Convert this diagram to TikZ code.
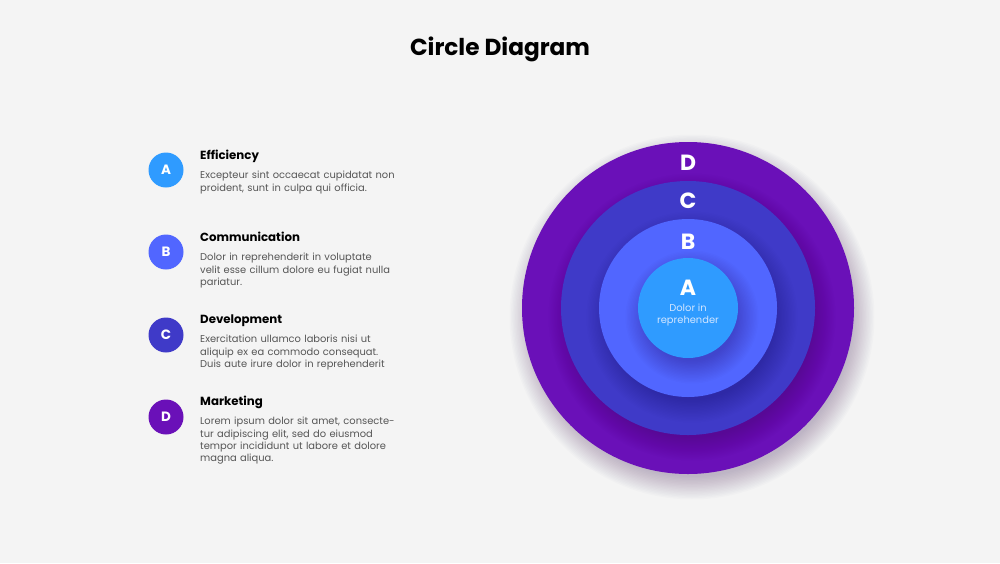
\documentclass[tikz,border=0pt]{standalone}
\usepackage{fontspec}
\setmainfont{Poppins}
\definecolor{bg}{HTML}{F4F4F4}
\definecolor{cA}{HTML}{2F9BFF}
\definecolor{cB}{HTML}{5166FF}
\definecolor{cC}{HTML}{3F3AC8}
\definecolor{cD}{HTML}{6A10B8}
\definecolor{shade}{HTML}{2A0850}
\definecolor{bodygray}{HTML}{555555}
\definecolor{lightA}{HTML}{D2E6FF}
\tikzset{
  ring/.style={circle, inner sep=0pt},
  softshadow/.style={fill=shade, fill opacity=0.016},
  bigletter/.style={text=white, font=\fontsize{22}{24}\selectfont\bfseries},
  badge/.style={circle, minimum size=35pt, inner sep=0pt, text=white, font=\fontsize{13.5}{15}\selectfont\bfseries},
  itemtitle/.style={anchor=base west, inner sep=0pt, font=\fontsize{11.8}{14}\selectfont\bfseries, text=black},
  itembody/.style={anchor=north west, inner sep=0pt, text width=230pt, align=left, font=\fontsize{9.9}{12.3}\selectfont, text=bodygray},
}
\newcommand{\ringshadow}[1]{%
  \foreach \k in {0,...,16} {
    \fill[softshadow] (692,317) circle ({#1 - 6 + \k*1.4});
  }%
}
\begin{document}
\begin{tikzpicture}[x=1pt,y=-1pt]
\fill[bg] (0,0) rectangle (1000,563);
\useasboundingbox (0,0) rectangle (1000,563);
\node[font=\fontsize{23.2}{26}\selectfont\bfseries] (title) at (500,49) {Circle Diagram};
% concentric circles with soft shadows
\ringshadow{166}
\node[ring, fill=cD, minimum size=332pt] (D) at (688,308) {};
\ringshadow{127}
\node[ring, fill=cC, minimum size=254pt] (C) at (688,308) {};
\ringshadow{89}
\node[ring, fill=cB, minimum size=178pt] (B) at (688,308) {};
\ringshadow{50}
\node[ring, fill=cA, minimum size=100pt] (A) at (688,308) {};
\node[bigletter] (lD) at (688,163) {D};
\node[bigletter] (lC) at (688,201) {C};
\node[bigletter] (lB) at (688,242) {B};
\node[bigletter] (lA) at (688,288) {A};
\node[text=lightA, align=center, font=\fontsize{9.9}{12}\selectfont] (tA) at (688,315) {Dolor in\\reprehender};
% left list
\node[badge, fill=cA] (bA) at (166,170) {A};
\node[badge, fill=cB] (bB) at (166,252) {B};
\node[badge, fill=cC] (bC) at (166,335) {C};
\node[badge, fill=cD] (bD) at (166,417) {D};
\node[itemtitle] (hA) at (200,159) {Efficiency};
\node[itemtitle] (hB) at (200,241) {Communication};
\node[itemtitle] (hC) at (200,323) {Development};
\node[itemtitle] (hD) at (200,405) {Marketing};
\node[itembody] (xA) at (200,171) {Excepteur sint occaecat cupidatat non\\proident, sunt in culpa qui officia.};
\node[itembody] (xB) at (200,253) {Dolor in reprehenderit in voluptate\\velit esse cillum dolore eu fugiat nulla\\pariatur.};
\node[itembody] (xC) at (200,335) {Exercitation ullamco laboris nisi ut\\aliquip ex ea commodo consequat.\\Duis aute irure dolor in reprehenderit};
\node[itembody] (xD) at (200,417) {Lorem ipsum dolor sit amet, consecte-\\tur adipiscing elit, sed do eiusmod\\tempor incididunt ut labore et dolore\\magna aliqua.};
\end{tikzpicture}
\end{document}
